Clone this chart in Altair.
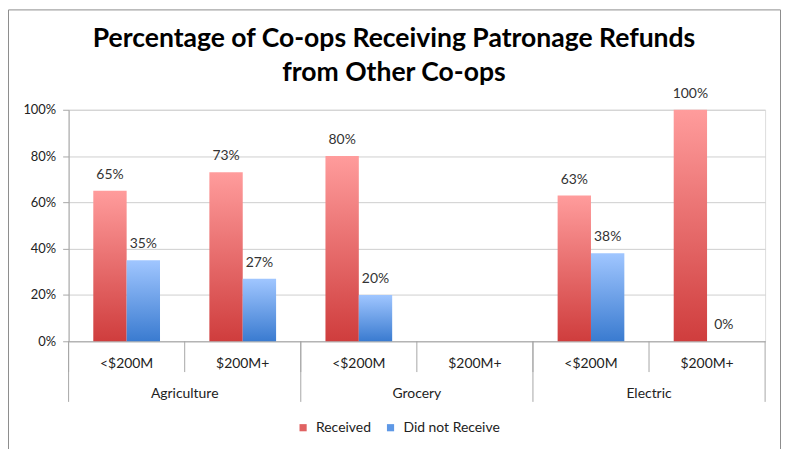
import altair as alt
import pandas as pd

groups = ["Agriculture", "Agriculture", "Grocery", "Grocery", "Electric", "Electric"]
sizes = ["<$200M", "$200M+", "<$200M", "$200M+", "<$200M", "$200M+"]
received = [0.65, 0.73, 0.80, None, 0.63, 1.00]
not_received = [0.35, 0.27, 0.20, None, 0.38, 0.00]
series_names = ["Received", "Did not Receive"]
group_names = ["Agriculture", "Grocery", "Electric"]
y_ticks = [0, 0.2, 0.4, 0.6, 0.8, 1.0]
title_lines = ["Percentage of Co-ops Receiving Patronage Refunds", "from Other Co-ops"]

slots = [f"{g}|{s}" for g, s in zip(groups, sizes)]

rows = []
for sl, g, s, r, n in zip(slots, groups, sizes, received, not_received):
    if r is not None:
        rows.append({"slot": sl, "group": g, "size": s, "series": series_names[0], "value": r})
    if n is not None:
        rows.append({"slot": sl, "group": g, "size": s, "series": series_names[1], "value": n})
df = pd.DataFrame(rows)

slot_df = pd.DataFrame({"slot": slots})
group_first = [slots[groups.index(g)] for g in group_names]
group_df = pd.DataFrame({"slot": group_first, "group": group_names})
last_df = pd.DataFrame({"slot": [slots[-1]]})
one_df = pd.DataFrame({"a": [0]})

W, H = 701, 233
FONT = "Lato"
TXT = "#222222"
AX = "#A6A6A6"

red_grad = {
    "gradient": "linear", "x1": 0, "y1": 0, "x2": 0, "y2": 1,
    "stops": [{"offset": 0, "color": "#FF9C9C"}, {"offset": 1, "color": "#CF3D3D"}],
}
blue_grad = {
    "gradient": "linear", "x1": 0, "y1": 0, "x2": 0, "y2": 1,
    "stops": [{"offset": 0, "color": "#A0C6FF"}, {"offset": 1, "color": "#3A7BD0"}],
}

x_enc = alt.X(
    "slot:N", sort=slots,
    scale=alt.Scale(paddingInner=0, paddingOuter=0),
    axis=alt.Axis(
        title=None, labelExpr="split(datum.value, '|')[1]", labelAngle=0,
        ticks=False, labelPadding=15, labelFontSize=14, labelFont=FONT,
        labelColor=TXT, domainColor=AX, grid=False,
    ),
)
xoff = alt.XOffset(
    "series:N", sort=series_names,
    scale=alt.Scale(domain=series_names, paddingInner=0, paddingOuter=0.74),
)
y_enc = alt.Y(
    "value:Q",
    scale=alt.Scale(domain=[0, 1], nice=False),
    axis=alt.Axis(
        title=None, format=".0%", values=y_ticks, grid=True, gridColor="#CFCFCF",
        domainColor=AX, tickColor=AX, tickSize=6, labelPadding=7,
        labelFontSize=13, labelFont=FONT, labelColor=TXT,
    ),
)

base = alt.Chart(df)

bars_r = base.transform_filter(alt.datum.series == series_names[0]).mark_bar(
    fill=red_grad).encode(x=x_enc, xOffset=xoff, y=y_enc)
bars_b = base.transform_filter(alt.datum.series == series_names[1]).mark_bar(
    fill=blue_grad).encode(x=x_enc, xOffset=xoff, y=y_enc)

labels = base.mark_text(dy=-16, fontSize=14, font=FONT, color="#333333").encode(
    x=x_enc, xOffset=xoff, y=y_enc, text=alt.Text("value:Q", format=".0%"))

legend_layer = base.mark_square(opacity=0).encode(
    x=x_enc, xOffset=xoff, y=y_enc,
    color=alt.Color(
        "series:N", sort=series_names,
        scale=alt.Scale(domain=series_names, range=["#E06262", "#5E98E6"]),
        legend=alt.Legend(
            title=None, orient="none", direction="horizontal", legendX=229, legendY=313,
            symbolType="square", symbolSize=52, symbolOpacity=1, symbolStrokeWidth=0,
            labelFont=FONT, labelFontSize=14, labelColor=TXT,
            labelOffset=6, columnPadding=12,
        ),
    ),
)

short_rules = alt.Chart(slot_df).mark_rule(color=AX).encode(
    x=alt.X("slot:N", sort=slots, bandPosition=0),
    y=alt.value(H), y2=alt.value(H + 31))
group_rules = alt.Chart(group_df).mark_rule(color=AX).encode(
    x=alt.X("slot:N", sort=slots, bandPosition=0),
    y=alt.value(H), y2=alt.value(H + 61))
end_rule = alt.Chart(last_df).mark_rule(color=AX).encode(
    x=alt.X("slot:N", sort=slots, bandPosition=1),
    y=alt.value(H), y2=alt.value(H + 61))

group_text = alt.Chart(group_df).mark_text(
    fontSize=14, font=FONT, color=TXT, baseline="middle").encode(
    x=alt.X("slot:N", sort=slots, bandPosition=1),
    y=alt.value(H + 53), text="group:N")

title1 = alt.Chart(one_df).mark_text(
    text=title_lines[0], font=FONT, fontSize=26.7, fontWeight="bold", color="#000000",
    baseline="alphabetic", align="center").encode(x=alt.value(W / 2 - 23), y=alt.value(-63))
title2 = alt.Chart(one_df).mark_text(
    text=title_lines[1], font=FONT, fontSize=26.7, fontWeight="bold", color="#000000",
    baseline="alphabetic", align="center").encode(x=alt.value(W / 2 - 23), y=alt.value(-29))

frame = alt.Chart(one_df).mark_rect(
    fill="transparent", stroke="#8C8C8C", strokeWidth=1).encode(
    x=alt.value(-60.5), x2=alt.value(716.5), y=alt.value(-100.5), y2=alt.value(H + 160))

chart = alt.layer(
    frame, title1, title2, bars_r, bars_b, labels, legend_layer,
    short_rules, group_rules, end_rule, group_text
).properties(
    width=W, height=H,
    padding={"left": 61, "top": 101, "right": 16, "bottom": 107},
    autosize=alt.AutoSizeParams(type="none"),
).configure_view(stroke=None).configure(background="white")

chart.save("out.html", embed_options={"renderer": "svg", "actions": False})
